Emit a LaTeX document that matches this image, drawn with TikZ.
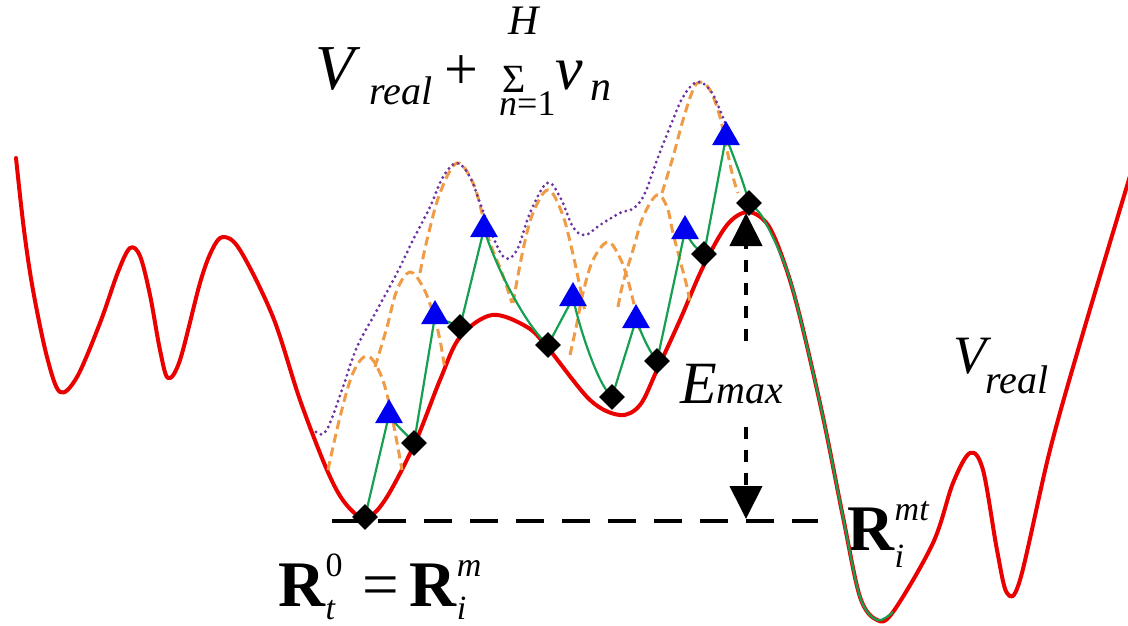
\documentclass[tikz,border=0pt]{standalone}
\usepackage{fontspec}
\setmainfont{Liberation Serif}[ItalicFont={Liberation Serif Italic},BoldFont={Liberation Serif Bold}]
\usetikzlibrary{shapes.geometric,arrows.meta}

\definecolor{potred}{RGB}{235,0,0}
\definecolor{walkgreen}{RGB}{20,160,80}
\definecolor{biasorange}{RGB}{240,155,70}
\definecolor{sumpurple}{RGB}{110,50,160}
\definecolor{tipblue}{RGB}{0,0,240}

\newcommand{\lblscript}{\fontsize{34}{34}\selectfont}

\tikzstyle{vreal} = [potred, line width=4pt, line cap=round, line join=round]
\tikzstyle{walk} = [walkgreen, line width=2.2pt, line join=round]
\tikzstyle{bump} = [biasorange, line width=3pt, dash pattern=on 9pt off 5pt]
\tikzstyle{vsum} = [sumpurple, line width=3.2pt, line cap=round, dash pattern=on 0pt off 5.5pt]
\tikzstyle{wellmark} = [diamond, fill=black, minimum width=26pt, minimum height=26pt, inner sep=0pt]
\tikzstyle{hillmark} = [regular polygon, regular polygon sides=3, fill=tipblue, minimum size=32pt, inner sep=0pt]
\tikzstyle{refline} = [black, line width=4pt, dash pattern=on 28pt off 18pt]
\tikzstyle{ebar} = [black, line width=4pt, dash pattern=on 12pt off 11pt, -{Triangle[width=32pt,length=33pt]}]
\tikzstyle{lbl} = [anchor=base west, inner sep=0pt]

\begin{document}
\begin{tikzpicture}[x=1pt, y=-1pt]
\useasboundingbox (0,0) rectangle (1128,626);
%wells and hills
\coordinate (w1) at (365,517);
\coordinate (w2) at (414,443);
\coordinate (w3) at (460,327);
\coordinate (w4) at (548,345);
\coordinate (w5) at (612,397);
\coordinate (w6) at (657,361);
\coordinate (w7) at (704,254);
\coordinate (w8) at (749,203);
\coordinate (h1) at (389,415);
\coordinate (h2) at (435,316);
\coordinate (h3) at (484,229);
\coordinate (h4) at (573,298);
\coordinate (h5) at (636,320);
\coordinate (h6) at (685,231);
\coordinate (h7) at (726,137);
\coordinate (etop) at (746,213);
\coordinate (ebot) at (746,519);
\coordinate (lvlstart) at (332,521);
\coordinate (lvlend) at (818,521);
%begin labels
\node[lbl, font=\fontsize{64}{76}\selectfont] (vterm) at (315,90)
    {\textit{V}\hspace{9pt}\raisebox{-15pt}{\fontsize{40}{40}\selectfont\textit{real}}};
\node[lbl, font=\fontsize{60}{72}\selectfont] (plus) at (444,90)
    {+\hspace{24pt}\raisebox{-2pt}{\fontsize{40}{48}\selectfont\char"03A3}};
\node[lbl, font=\fontsize{42}{50}\selectfont] (sumtop) at (508,35) {\textit{H}};
\node[lbl, font=\fontsize{36}{43}\selectfont] (sumbot) at (499,115) {\textit{n}=1};
\node[lbl, font=\fontsize{62}{74}\selectfont] (vnterm) at (555,90)
    {\textit{v}\hspace{8pt}\raisebox{-10pt}{\fontsize{42}{42}\selectfont\textit{n}}};
\node[lbl, font=\fontsize{54}{64}\selectfont] (reallbl) at (953,373)
    {\textit{V}\hspace{-6pt}\raisebox{-20pt}{\fontsize{40}{40}\selectfont\textit{real}}};
\node[lbl, inner ysep=23pt, font=\fontsize{60}{72}\selectfont] (emax) at (680,403)
    {\textit{E}{\fontsize{40}{40}\selectfont\textit{max}}};
\node[lbl, font=\fontsize{65}{78}\selectfont] (startlbl) at (278,606)
    {\textbf{R}\rlap{\raisebox{-13pt}{\lblscript\textit{t}}}\raisebox{30pt}{\lblscript 0}\hspace{20pt}=\hspace{10pt}\textbf{R}\rlap{\raisebox{-13pt}{\lblscript\textit{i}}}\raisebox{30pt}{\lblscript\textit{m}}};
\node[lbl, font=\fontsize{65}{78}\selectfont] (endlbl) at (847,550)
    {\textbf{R}\rlap{\raisebox{-17pt}{\lblscript\textit{i}}}\raisebox{30pt}{\lblscript\textit{mt}}};
%end labels
%begin Emax
\draw[refline] (lvlstart) -- (lvlend);
\draw[ebar] (emax.north -| etop) -- (etop);
\draw[ebar] (emax.south -| ebot) -- (ebot);
%end Emax
%begin Vreal
\draw[vreal] plot[smooth, tension=0.55] coordinates {
    (16,158) (24,230) (33,290) (47,357) (60,392) (77,377) (100,323) (118,272)
    (130,248) (140,256) (150,295) (160,350) (168,378) (180,360) (200,283)
    (212,250) (223,237) (240,250) (273,317) (300,400) (327,470) (345,503)
    (365,518) (385,500) (415,443) (440,380) (460,337) (492,315) (527,327)
    (548,348) (590,400) (620,415) (640,405) (657,370) (680,320) (703,267)
    (727,225) (748,212) (768,225) (785,265) (800,317) (823,417) (843,517)
    (860,597) (877,620) (893,612) (933,543) (953,483) (970,453) (983,470)
    (997,550) (1007,593) (1020,580) (1050,450) (1083,333) (1130,176)};
%end Vreal
%begin bias potentials
\draw[bump] plot[smooth, tension=0.6] coordinates {
    (328,470) (340,417) (353,373) (367,356) (380,373) (390,407) (402,470)};
\draw[bump] plot[smooth, tension=0.6] coordinates {
    (375,367) (387,327) (397,290) (410,272) (423,287) (433,313) (440,340) (445,370)};
\draw[bump] plot[smooth, tension=0.6] coordinates {
    (420,273) (427,240) (440,193) (457,163) (473,183) (483,217) (490,243) (502,273) (512,303)};
\draw[bump] plot[smooth, tension=0.6] coordinates {
    (513,303) (523,250) (533,213) (548,190) (562,213) (572,250) (580,287) (585,312)};
\draw[bump] plot[smooth, tension=0.6] coordinates {
    (570,355) (577,323) (583,293) (593,260) (608,242) (620,258) (627,277) (633,300) (640,330)};
\draw[bump] plot[smooth, tension=0.6] coordinates {
    (618,307) (623,283) (633,250) (643,217) (657,195) (667,207) (673,233) (680,260) (687,287) (690,303)};
\draw[bump] plot[smooth, tension=0.6] coordinates {
    (662,193) (673,157) (683,120) (693,90) (700,82) (710,90) (720,117) (727,150) (733,177) (738,193)};
\draw[vsum] plot[smooth, tension=0.6] coordinates {
    (316,432) (323,434) (330,423) (343,387) (357,347) (377,310) (397,273) (413,240)
    (430,207) (443,177) (457,163) (470,177) (480,203) (493,237) (505,258) (517,250)
    (530,213) (547,183) (560,197) (573,227) (585,235) (600,225) (620,213) (634,208)
    (645,193) (657,160) (670,127) (683,97) (697,82) (710,90) (720,110) (727,128)};
%end bias potentials
%begin walk
\draw[walk] (w1) -- (h1) .. controls (398,428) and (406,433) .. (w2)
    -- (h2) .. controls (445,322) and (452,322) .. (w3)
    -- (h3) .. controls (495,265) and (525,325) .. (w4)
    -- (h4) .. controls (580,330) and (598,385) .. (w5)
    -- (h5) .. controls (645,342) and (650,352) .. (w6)
    -- (h6) .. controls (692,245) and (698,250) .. (w7)
    -- (h7) .. controls (734,158) and (743,180) .. (w8);
\draw[walk] plot[smooth, tension=0.55] coordinates {
    (w8) (763,218) (785,265) (800,317) (823,417) (843,517) (860,597) (877,620) (893,612)};
%end walk
%begin markers
\foreach \k in {1,...,8}
    \node[wellmark] (well\k) at (w\k) {};
\foreach \k in {1,...,7}
    \node[hillmark] (hill\k) at (h\k) {};
%end markers
\end{tikzpicture}
\end{document}
